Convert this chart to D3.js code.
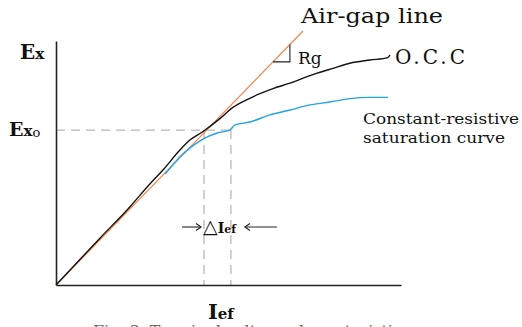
<!DOCTYPE html>
<html>
<head>
<meta charset="utf-8">
<script src="https://cdn.jsdelivr.net/npm/d3@7"></script>
<style>
  html, body { margin: 0; padding: 0; background: #fff; }
  svg { display: block; }
  text { font-family: "DejaVu Serif", "Liberation Serif", serif; }
</style>
</head>
<body>
<svg id="chart" width="522" height="327"></svg>
<script>
// Field current (Ief) vs. generated EMF (Ex), arbitrary normalised units

// Air-gap line: straight line through the origin
const airGap = [[0, 0], [71.6, 104.1]];

// Open-circuit characteristic (O.C.C)
const occIef = [0, 12.8, 21.4, 27.2, 31.0, 35.9, 38.8, 42.6, 47.5, 51.3, 55.4, 59.1, 62.9, 67.8, 72.8, 75.7, 80.3, 85.2, 91.0, 96.2, 96.8];
const occEx  = [0, 19.3, 32.0, 41.4, 47.1, 55.3, 59.4, 62.9, 68.2, 72.8, 76.0, 78.4, 80.5, 82.7, 85.4, 86.8, 88.8, 90.9, 92.2, 93.2, 94.3];

// Constant-resistive saturation curve
const satIef = [31.6, 33.6, 35.9, 38.8, 42.6, 46.7, 50.4, 51.9, 56.2, 62.0, 67.8, 73.6, 79.4, 85.2, 91.0, 96.2];
const satEx  = [45.5, 48.8, 52.5, 56.1, 59.8, 62.3, 63.5, 65.6, 66.8, 69.7, 71.7, 73.8, 75.0, 76.4, 76.9, 76.9];

// Operating level Ex0 and the two field currents that reach it
const ex0 = 63.5;
const iefMarks = [42.9, 50.7];

// Rg slope triangle, spanning these Ief values along the air-gap line
const rgSpan = [62.9, 67.8];

const svg = d3.select("#chart");

const x = d3.scaleLinear().domain([0, 100]).range([56, 401]);
const y = d3.scaleLinear().domain([0, 100]).range([285, 41]);

const slope = airGap[1][1] / airGap[1][0];

const toPts = (xs, ys) => xs.map((v, i) => [v, ys[i]]);
const line = d3.line().x(d => x(d[0])).y(d => y(d[1]));
const curve = d3.line().x(d => x(d[0])).y(d => y(d[1])).curve(d3.curveMonotoneX);

// Dashed guides for Ex0 and the two Ief values
const guide = svg.append("g")
  .attr("stroke", "#b8b8b8")
  .attr("stroke-width", 1.3)
  .attr("stroke-dasharray", "9,6")
  .attr("fill", "none");
guide.append("line")
  .attr("x1", x(0)).attr("x2", x(iefMarks[1]))
  .attr("y1", y(ex0)).attr("y2", y(ex0));
iefMarks.forEach(v => {
  guide.append("line")
    .attr("x1", x(v)).attr("x2", x(v))
    .attr("y1", y(ex0)).attr("y2", y(0));
});

// Axes (bare lines, no ticks)
svg.append("g")
  .attr("transform", `translate(${x(0)},0)`)
  .call(d3.axisLeft(y).tickValues([]).tickSizeOuter(0))
  .select(".domain").attr("stroke", "#222").attr("stroke-width", 1.6);
svg.append("g")
  .attr("transform", `translate(0,${y(0)})`)
  .call(d3.axisBottom(x).tickValues([]).tickSizeOuter(0))
  .select(".domain").attr("stroke", "#222").attr("stroke-width", 1.6);

// Air-gap line
svg.append("path")
  .datum(airGap)
  .attr("d", line)
  .attr("fill", "none")
  .attr("stroke", "#f4874b")
  .attr("stroke-width", 1.2);

// Saturation curve
svg.append("path")
  .datum(toPts(satIef, satEx))
  .attr("d", curve)
  .attr("fill", "none")
  .attr("stroke", "#23a3e2")
  .attr("stroke-width", 1.4);

// O.C.C
svg.append("path")
  .datum(toPts(occIef, occEx))
  .attr("d", curve)
  .attr("fill", "none")
  .attr("stroke", "#111")
  .attr("stroke-width", 1.4);

// Rg slope triangle
svg.append("path")
  .datum([[rgSpan[0], slope * rgSpan[0]], [rgSpan[1], slope * rgSpan[0]], [rgSpan[1], slope * rgSpan[1]]])
  .attr("d", line)
  .attr("fill", "none")
  .attr("stroke", "#222")
  .attr("stroke-width", 1.1);

svg.append("text")
  .attr("x", x(rgSpan[1]) + 8).attr("y", y(slope * rgSpan[0]) + 2)
  .attr("font-size", 17).attr("fill", "#111")
  .text("Rg");

// Curve labels
svg.append("text")
  .attr("x", 301).attr("y", 23)
  .attr("font-size", 20).attr("fill", "#111")
  .attr("textLength", 142).attr("lengthAdjust", "spacingAndGlyphs")
  .text("Air-gap line");

svg.append("text")
  .attr("x", 395).attr("y", 64)
  .attr("font-size", 20).attr("fill", "#111")
  .attr("textLength", 70).attr("lengthAdjust", "spacing")
  .text("O.C.C");

svg.append("text")
  .attr("x", 363).attr("y", 124)
  .attr("font-size", 14).attr("fill", "#111")
  .attr("textLength", 156).attr("lengthAdjust", "spacingAndGlyphs")
  .text("Constant-resistive");
svg.append("text")
  .attr("x", 363).attr("y", 143)
  .attr("font-size", 14).attr("fill", "#111")
  .attr("textLength", 142).attr("lengthAdjust", "spacingAndGlyphs")
  .text("saturation curve");

// Axis labels
const exLab = svg.append("text")
  .attr("x", 20).attr("y", 59)
  .attr("font-weight", "bold").attr("fill", "#111");
exLab.append("tspan").attr("font-size", 20).text("E");
exLab.append("tspan").attr("font-size", 15).text("x");

const ex0Lab = svg.append("text")
  .attr("x", 9).attr("y", 136)
  .attr("font-weight", "bold").attr("fill", "#111");
ex0Lab.append("tspan").attr("font-size", 19).text("E");
ex0Lab.append("tspan").attr("font-size", 15).text("x");
ex0Lab.append("tspan").attr("font-size", 13).attr("font-weight", "normal").attr("dy", 1).text("o");

const iefLab = svg.append("text")
  .attr("x", 208).attr("y", 319)
  .attr("font-weight", "bold").attr("fill", "#111");
iefLab.append("tspan").attr("font-size", 21).text("I");
iefLab.append("tspan").attr("font-size", 15).text("ef");

// ΔIef marker between the two guides
const arrowY = 227;
const arrow = svg.append("g").attr("stroke", "#222").attr("stroke-width", 1.1).attr("fill", "none");
const xa = x(iefMarks[0]), xb = x(iefMarks[1]);
arrow.append("line").attr("x1", xa - 22).attr("x2", xa - 3).attr("y1", arrowY).attr("y2", arrowY);
arrow.append("path").attr("d", `M${xa - 8},${arrowY - 3.5} L${xa - 3},${arrowY} L${xa - 8},${arrowY + 3.5}`);
arrow.append("line").attr("x1", xb + 46).attr("x2", xb + 14).attr("y1", arrowY).attr("y2", arrowY);
arrow.append("path").attr("d", `M${xb + 19},${arrowY - 3.5} L${xb + 14},${arrowY} L${xb + 19},${arrowY + 3.5}`);

const dLab = svg.append("text")
  .attr("x", xa - 1).attr("y", 233)
  .attr("fill", "#111");
dLab.append("tspan").attr("font-size", 19).attr("font-family", "DejaVu Sans").text("△");
dLab.append("tspan").attr("font-size", 14).attr("font-weight", "bold").text("I");
dLab.append("tspan").attr("font-size", 11).attr("font-weight", "bold").text("ef");

// Figure caption (runs past the bottom edge)
svg.append("text")
  .attr("x", 93).attr("y", 336)
  .attr("font-size", 15).attr("fill", "#666")
  .attr("textLength", 317).attr("lengthAdjust", "spacingAndGlyphs")
  .text("Fig. 3. Terminal voltage characteristics");
</script>
</body>
</html>
